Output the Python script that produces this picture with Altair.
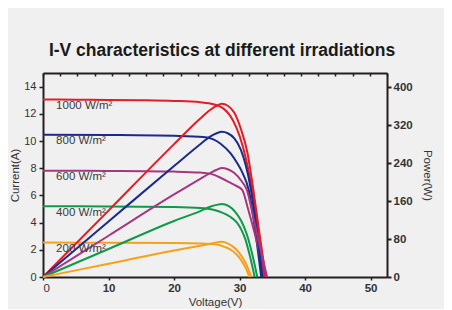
import altair as alt
import pandas as pd

SERIES = ["1000 W/m²", "800 W/m²", "600 W/m²", "400 W/m²", "200 W/m²"]
COLORS = ["#e41c26", "#1e2a8b", "#a5377f", "#10994a", "#f5a11a"]

# ---- I-V curves (Voltage V, Current A) ----
IV_V_1000 = [0, 5, 10, 15, 20, 24, 26, 27.5, 28.5, 29.5, 30.5, 31.2, 31.9, 32.6, 33.2, 33.8]
IV_I_1000 = [13.05, 13.04, 13.02, 13.0, 12.95, 12.85, 12.7, 12.4, 11.9, 11.0, 9.6, 8.2, 6.4, 4.2, 2.2, 0]

IV_V_800 = [0, 10, 20, 24.5, 26, 27.1, 28.6, 29.6, 30.5, 31.4, 32.3, 33.3]
IV_I_800 = [10.46, 10.44, 10.38, 10.3, 10.12, 9.8, 9.1, 8.4, 7.6, 6.4, 3.7, 0]

IV_V_600 = [0, 10, 20, 24, 25.5, 27.1, 28.5, 29.5, 30.4, 31.3, 32.2, 33.0, 33.7]
IV_I_600 = [7.82, 7.8, 7.75, 7.68, 7.6, 7.3, 6.95, 6.7, 6.4, 5.0, 3.4, 1.8, 0]

IV_V_400 = [0, 10, 20, 24, 26, 27.1, 28.5, 29.6, 30.3, 30.9, 31.6, 32.3]
IV_I_400 = [5.2, 5.19, 5.15, 5.08, 4.95, 4.78, 4.45, 4.0, 3.45, 2.75, 1.5, 0]

IV_V_200 = [0, 10, 20, 24, 26, 27.8, 29, 30, 30.5, 31, 31.5]
IV_I_200 = [2.53, 2.52, 2.5, 2.47, 2.42, 2.2, 1.9, 1.4, 1.03, 0.6, 0]

# ---- P-V curves (Voltage V, Power W) ----
PV_V_1000 = [0, 10, 20, 24, 25.5, 26.5, 27.3, 28.2, 29.2, 30.2, 31.2, 32.1, 33.0, 34.0]
PV_P_1000 = [0, 140, 280, 334, 352, 361, 365, 361, 346, 312, 262, 184, 95, 0]

PV_V_800 = [0, 10, 20, 24, 25.5, 26.5, 27.3, 28.2, 29.2, 30.2, 31.6, 32.6, 33.5]
PV_P_800 = [0, 117, 234, 280, 296, 303, 306, 303, 292, 268, 194, 100, 0]

PV_V_600 = [0, 10, 20, 24, 25.5, 26.5, 27.3, 28.2, 29.2, 30.2, 31.1, 32.1, 33.1, 34.2]
PV_P_600 = [0, 87, 174, 207, 219, 226, 229.5, 227, 219, 204, 184, 126, 64, 0]

PV_V_400 = [0, 10, 20, 24, 25.5, 26.5, 27.3, 28.3, 29.3, 30.3, 31.1, 31.9, 32.7]
PV_P_400 = [0, 59, 118, 139, 148, 152, 154, 150, 138, 117, 90, 50, 0]

PV_V_200 = [0, 10, 20, 24, 25.5, 26.5, 27.2, 28, 29, 30, 30.9, 31.8]
PV_P_200 = [0, 28, 56, 66, 70, 73, 74.5, 72, 64, 50, 30, 0]

LABEL_V = [2.0, 2.0, 2.0, 2.0, 2.0]
LABEL_I = [12.6, 10.0, 7.37, 4.73, 2.08]

X_TICKS = [0, 10, 20, 30, 40, 50]
I_TICKS = [0, 2, 4, 6, 8, 10, 12, 14]
P_TICKS = [0, 80, 160, 240, 320, 400]
TOP_TICKS = [round(i * 52.5 / 20, 4) for i in range(21)]

iv_sets = [(IV_V_1000, IV_I_1000), (IV_V_800, IV_I_800), (IV_V_600, IV_I_600),
           (IV_V_400, IV_I_400), (IV_V_200, IV_I_200)]
pv_sets = [(PV_V_1000, PV_P_1000), (PV_V_800, PV_P_800), (PV_V_600, PV_P_600),
           (PV_V_400, PV_P_400), (PV_V_200, PV_P_200)]

iv_rows, pv_rows = [], []
for s, (vs, cs) in zip(SERIES, iv_sets):
    for v, c in zip(vs, cs):
        iv_rows.append({"series": s, "V": v, "I": c})
for s, (vs, ps) in zip(SERIES, pv_sets):
    for v, p in zip(vs, ps):
        pv_rows.append({"series": s, "V": v, "P": p})
iv_df = pd.DataFrame(iv_rows)
pv_df = pd.DataFrame(pv_rows)
lab_df = pd.DataFrame({"series": SERIES, "V": LABEL_V, "I": LABEL_I})

FONT = "Liberation Sans"
AX = "#231f20"
xscale = alt.Scale(domain=[0, 52.5], nice=False, zero=True)
iscale = alt.Scale(domain=[0, 15], nice=False)
pscale = alt.Scale(domain=[0, 430], nice=False)
cscale = alt.Scale(domain=SERIES, range=COLORS)

iv = alt.Chart(iv_df).mark_line(strokeWidth=2, interpolate="monotone").encode(
    x=alt.X("V:Q", scale=xscale, axis=alt.Axis(
        orient="bottom", values=X_TICKS, title="Voltage(V)", tickSize=3,
        labelFontSize=11.5, labelPadding=2,
        labelFontWeight={"condition": {"test": "datum.value == 0", "value": "normal"}, "value": "bold"},
        titlePadding=3)),
    y=alt.Y("I:Q", scale=iscale, axis=alt.Axis(
        orient="left", values=I_TICKS, title="Current(A)", tickSize=4,
        labelFontSize=11, labelPadding=3, titlePadding=3)),
    color=alt.Color("series:N", scale=cscale, legend=None),
    detail="series:N",
)

pv = alt.Chart(pv_df).mark_line(strokeWidth=2, interpolate="monotone").encode(
    x=alt.X("V:Q", scale=xscale, axis=alt.Axis(
        orient="bottom", offset=-204, values=TOP_TICKS, labels=False, title=None,
        tickSize=3)),
    y=alt.Y("P:Q", scale=pscale, axis=alt.Axis(
        orient="right", values=P_TICKS, title="Power(W)", tickSize=4, tickWidth=2,
        labelFontSize=11.5, labelFontWeight="bold", labelPadding=2, titlePadding=9)),
    color=alt.Color("series:N", scale=cscale, legend=None),
    detail="series:N",
)

labels = alt.Chart(lab_df).mark_text(
    align="left", baseline="middle", fontSize=11.5, font=FONT, color="#3a3a3a"
).encode(
    x=alt.X("V:Q", scale=xscale, axis=None),
    y=alt.Y("I:Q", scale=iscale, axis=None),
    text="series:N",
)

chart = alt.layer(iv, pv, labels).resolve_scale(y="independent").resolve_axis(
    x="independent", y="independent"
).properties(
    width=344, height=204,
    padding={"left": 35, "top": 65, "right": 57, "bottom": 32},
    autosize=alt.AutoSizeParams(type="none"),
    title=alt.TitleParams(
        "I-V characteristics at different irradiations", fontSize=17.5, font=FONT,
        fontWeight="bold", color="#1a1a1a", offset=13, dx=7),
).configure(background="#f0f0f0").configure_view(stroke=None).configure_axis(
    domainColor=AX, domainWidth=2, tickColor=AX, tickWidth=1.5, grid=False,
    labelColor="#333333", labelFont=FONT, titleFont=FONT, titleFontWeight="normal",
    titleFontSize=11.5, titleColor="#333333",
)

chart.save("out.html", embed_options={"renderer": "svg", "actions": False})
